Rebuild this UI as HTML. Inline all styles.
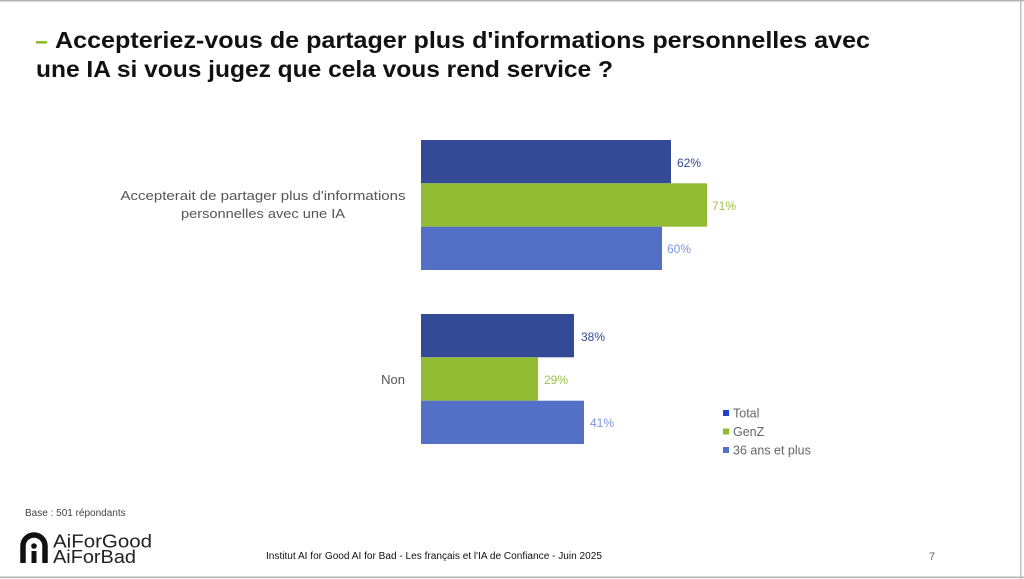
<!DOCTYPE html>
<html><head><meta charset="utf-8">
<style>
html,body{margin:0;padding:0;background:#fff;}
svg{display:block;}
text{font-family:"Liberation Sans",Arial,sans-serif;}
</style></head>
<body>
<svg width="1024" height="579" viewBox="0 0 1024 579" xmlns="http://www.w3.org/2000/svg">
<rect x="0" y="0" width="1024" height="579" fill="#fff"/>
<!-- borders -->
<rect x="0" y="0" width="1024" height="1.5" fill="#b4b4b4"/>
<rect x="1020" y="0" width="1.5" height="579" fill="#bdbdbd"/>
<rect x="0" y="576.5" width="1024" height="1.5" fill="#b4b4b4"/>

<!-- title -->
<rect x="36" y="41" width="11" height="2.6" fill="#8fbc2f"/>
<text x="55" y="48" font-size="23" font-weight="bold" fill="#111" textLength="815" lengthAdjust="spacingAndGlyphs">Accepteriez-vous de partager plus d'informations personnelles avec</text>
<text x="36" y="77" font-size="23" font-weight="bold" fill="#111" textLength="577" lengthAdjust="spacingAndGlyphs">une IA si vous jugez que cela vous rend service ?</text>

<!-- category labels -->
<text x="263" y="200" font-size="13" fill="#555" text-anchor="middle" textLength="285" lengthAdjust="spacingAndGlyphs">Accepterait de partager plus d'informations</text>
<text x="263" y="218" font-size="13" fill="#555" text-anchor="middle" textLength="164" lengthAdjust="spacingAndGlyphs">personnelles avec une IA</text>
<text x="405" y="384" font-size="13" fill="#555" text-anchor="end">Non</text>

<!-- bars group 1 -->
<rect x="421" y="140" width="250" height="43.3" fill="#334a97"/>
<rect x="421" y="183.3" width="286" height="43.4" fill="#92bc33"/>
<rect x="421" y="226.7" width="241" height="43.3" fill="#5470c6"/>
<!-- bars group 2 -->
<rect x="421" y="314" width="153" height="43.3" fill="#334a97"/>
<rect x="421" y="357.3" width="117" height="43.4" fill="#92bc33"/>
<rect x="421" y="400.7" width="163" height="43.3" fill="#5470c6"/>

<!-- values -->
<g font-size="12">
<text x="677" y="167" fill="#33479a">62%</text>
<text x="712" y="210" fill="#9cc24a">71%</text>
<text x="667" y="253" fill="#7f95e0">60%</text>
<text x="581" y="341" fill="#33479a">38%</text>
<text x="544" y="384" fill="#9cc24a">29%</text>
<text x="590" y="427" fill="#7f95e0">41%</text>
</g>

<!-- legend -->
<rect x="723" y="410" width="6" height="6" fill="#1f3fd6"/>
<rect x="723" y="428.5" width="6" height="6" fill="#8fbc2f"/>
<rect x="723" y="447" width="6" height="6" fill="#5470c6"/>
<g font-size="12.5" fill="#666">
<text x="733" y="417.5">Total</text>
<text x="733" y="436">GenZ</text>
<text x="733" y="454.5">36 ans et plus</text>
</g>

<!-- footer -->
<text x="25" y="516" font-size="10" fill="#444">Base : 501 répondants</text>
<g fill="none" stroke="#111" stroke-width="5.5">
<path d="M23,563 V546 A11,11 0 0 1 45,546 V563"/>
</g>
<circle cx="34" cy="546" r="2.8" fill="#111"/>
<rect x="31.5" y="551" width="5" height="12" fill="#111"/>
<text x="53" y="547.5" font-size="18" fill="#222" textLength="99" lengthAdjust="spacingAndGlyphs">AiForGood</text>
<text x="53" y="563" font-size="18" fill="#222" textLength="83" lengthAdjust="spacingAndGlyphs">AiForBad</text>
<text x="266" y="559" font-size="10" fill="#111" textLength="336" lengthAdjust="spacingAndGlyphs">Institut AI for Good AI for Bad - Les français et l'IA de Confiance - Juin 2025</text>
<text x="929" y="560" font-size="11" fill="#666">7</text>
</svg>
</body></html>
